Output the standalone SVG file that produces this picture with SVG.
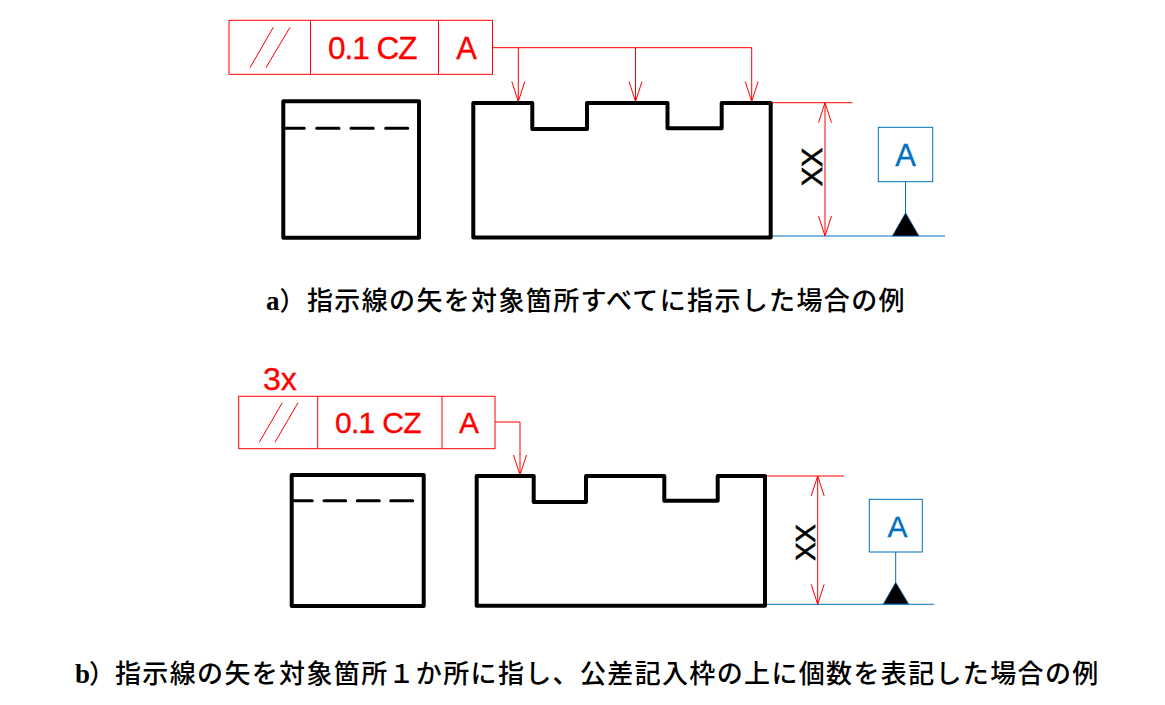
<svg xmlns="http://www.w3.org/2000/svg" width="1165" height="705" viewBox="0 0 1165 705">
<style>
.bg{fill:#fff}
.red{fill:none;stroke:#ff0000;stroke-width:1}
.blue{fill:none;stroke:#0070c0;stroke-width:1}
.part{fill:none;stroke:#000;stroke-width:4;stroke-linejoin:round;stroke-linecap:round}
.hid{fill:none;stroke:#000;stroke-width:3;stroke-linecap:round}
.tri{fill:#000;stroke:#0070c0;stroke-width:.6}
.lat{font-family:"Liberation Sans",Arial,sans-serif}
.rt{fill:#ff0000;stroke:#ff0000;stroke-width:.35}
.bt{fill:#0070c0;stroke:#0070c0;stroke-width:.3;text-anchor:middle}
.dim{fill:#000;stroke:#000;stroke-width:.6;text-anchor:middle}
.cap{font-family:"Noto Sans CJK JP",sans-serif;font-size:26px;font-weight:500;letter-spacing:1.35px;fill:#000}
.capl{font-family:"Liberation Serif",serif;font-size:27px;font-weight:700;letter-spacing:0}
.arrow{fill:none;stroke:#ff0000;stroke-width:1}
.lead{marker-end:url(#oa)}
.dimline{marker-start:url(#oa);marker-end:url(#oa)}
</style>
<defs>
<marker id="oa" markerUnits="userSpaceOnUse" viewBox="-22 -8 24 16" refX="0" refY="0" markerWidth="24" markerHeight="16" orient="auto-start-reverse" overflow="visible">
<path class="arrow" d="M-20-6.5L0 0L-20 6.5"/>
</marker>
</defs>
<rect class="bg" width="1165" height="705"/>

<g id="connectors">
<path class="red" d="M492.5 47.7H751.7"/>
<path class="red lead" d="M518.3 47.7V101.5"/>
<path class="red lead" d="M635.5 47.7V101.5"/>
<path class="red lead" d="M751.7 47.7V101.5"/>
<path class="red" d="M770 102.7H852.3"/>
<path class="blue" d="M771 236H945"/>
<path class="red dimline" d="M825 102.7V236"/>
<path class="blue" d="M905.5 181.7V213"/>
<path class="red lead" d="M495 422H520V475"/>
<path class="red" d="M765 476H844"/>
<path class="blue" d="M765 604.3H934"/>
<path class="red dimline" d="M817.7 476V604.3"/>
<path class="blue" d="M895.7 552V582.5"/>
</g>

<g id="fcf-a">
<rect class="red" x="229" y="20.3" width="263.5" height="54"/>
<path class="red" d="M310.5 20.3V74.3M438.5 20.3V74.3M250 67.7L273.3 27.3M266 67.7L290 27.3"/>
<text class="lat rt" x="328" y="59" font-size="31.5" letter-spacing="-1">0.1 CZ</text>
<text class="lat rt" x="466.5" y="59" font-size="31" text-anchor="middle">A</text>
</g>
<g id="side-a">
<rect class="part" x="283.3" y="101.3" width="135.7" height="136.4"/>
<path class="hid" d="M285.7 128.3H304.3M316.7 128.3H339M351 128.3H373.3M385.7 128.3H407.7"/>
</g>
<g id="front-a">
<path class="part" d="M473.3 103H532.3V129H587V103H667.5V128.3H721.7V103H770.7V237.5H473.3Z"/>
</g>
<g id="dim-a">
<text class="lat dim" font-size="29" transform="translate(822 167) rotate(-90)">XX</text>
</g>
<g id="datum-a">
<rect class="blue" x="878.3" y="127.3" width="54.4" height="54.4"/>
<text class="lat bt" x="905.5" y="166" font-size="31">A</text>
<path class="tri" d="M905.6 212.7L919 236H892.3Z"/>
</g>
<g id="caption-a">
<text class="cap" y="310"><tspan class="capl" x="266">a</tspan><tspan x="279.5">）</tspan><tspan x="307">指示線の矢を対象箇所すべてに指示した場合の例</tspan></text>
</g>

<g id="fcf-b">
<text class="lat rt" x="263" y="390" font-size="32">3x</text>
<rect class="red" x="238.7" y="396.3" width="256.3" height="52.4"/>
<path class="red" d="M317.7 396.3V448.7M442 396.3V448.7M259.3 442.3L282.3 402.7M275 442.3L298 402.7"/>
<text class="lat rt" x="335" y="433.3" font-size="30" letter-spacing="-.7">0.1 CZ</text>
<text class="lat rt" x="469" y="433.3" font-size="30" text-anchor="middle">A</text>
</g>
<g id="side-b">
<rect class="part" x="291.7" y="475" width="132" height="131"/>
<path class="hid" d="M293 500.7H312.3M324 500.7H345.7M357.3 500.7H379.3M390.7 500.7H412.7"/>
</g>
<g id="front-b">
<path class="part" d="M476.7 476H533.7V502H586V476H664.3V500.7H717.7V476H765V605.7H476.7Z"/>
</g>
<g id="dim-b">
<text class="lat dim" font-size="27.5" transform="translate(815 542.5) rotate(-90)">XX</text>
</g>
<g id="datum-b">
<rect class="blue" x="869.3" y="499.3" width="53" height="52.7"/>
<text class="lat bt" x="897.5" y="537.3" font-size="30">A</text>
<path class="tri" d="M895.7 582.3L908.7 604H883.3Z"/>
</g>
<g id="caption-b">
<text class="cap" y="683"><tspan class="capl" x="75">b</tspan><tspan x="89">）</tspan><tspan x="115">指示線の矢を対象箇所１か所に指し、公差記入枠の上に個数を表記した場合の例</tspan></text>
</g>
</svg>
